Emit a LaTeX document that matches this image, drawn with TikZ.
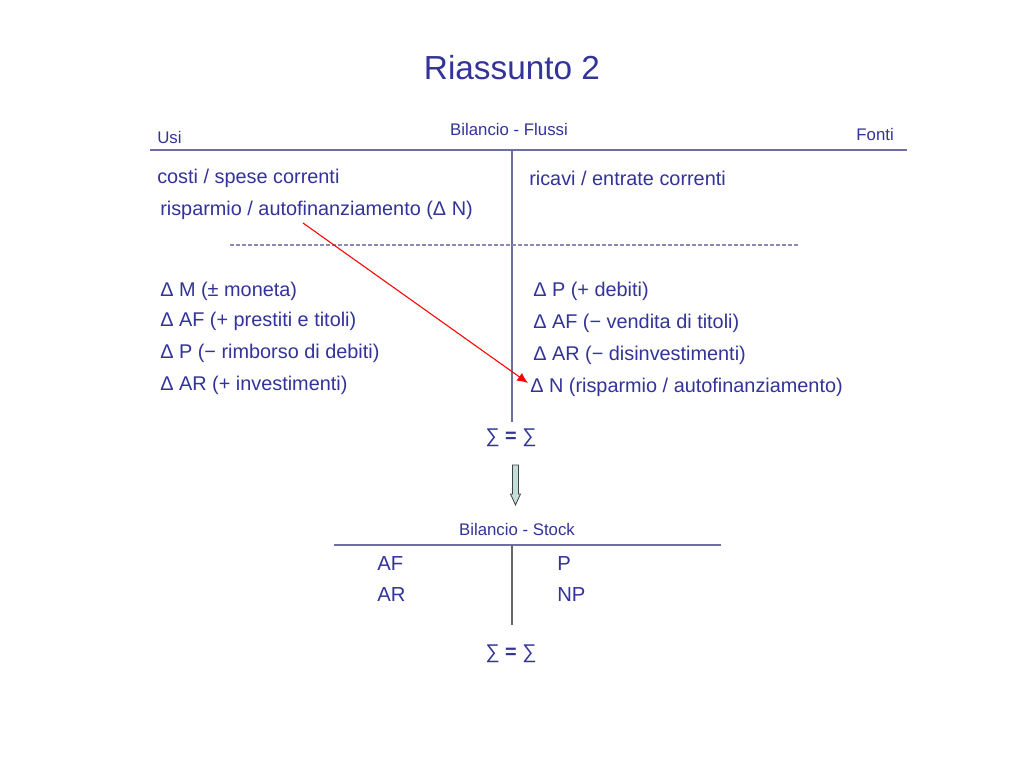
\documentclass[tikz,border=0pt]{standalone}
\usepackage{fontspec}
\setmainfont{Liberation Sans}
\usetikzlibrary{arrows.meta}
\definecolor{txt}{HTML}{333399}
\definecolor{ln}{HTML}{6E6EA0}
\definecolor{gln}{HTML}{666666}
\definecolor{arrfill}{HTML}{C3DED9}
\tikzset{
  every node/.style={inner sep=0pt, text=txt},
  body/.style={anchor=west, font=\fontsize{14.9}{16}\selectfont},
  big/.style={anchor=west, font=\fontsize{15.2}{17}\selectfont},
  small/.style={font=\fontsize{12.6}{14}\selectfont},
  title/.style={font=\fontsize{25}{30}\selectfont},
  sumeq/.style={font=\fontsize{14.9}{16}\selectfont},
  rule/.style={draw=ln, line width=1.1pt},
  grule/.style={draw=gln, line width=1.3pt},
  dashrule/.style={draw=ln!80, line width=0.8pt, dash pattern=on 3pt off 1.5pt},
  redarrow/.style={draw=red, line width=0.8pt, -{Latex[length=8pt,width=7pt]}},
  blockarrow/.style={draw=black!75, fill=arrfill, line width=0.6pt}
}
\begin{document}
\begin{tikzpicture}[x=0.75pt,y=-0.75pt]
\useasboundingbox (0,0) rectangle (1024,768);
\fill[white] (0,0) rectangle (1024,768);
% title
\node[title] (ttl) at (512,68) {Riassunto 2};
% top T-account
\node[small] (bf) at (509,129) {Bilancio - Flussi};
\node[small, anchor=west] (usi) at (157,137) {Usi};
\node[small, anchor=east] (fonti) at (894,134) {Fonti};
\coordinate (hl1) at (150,150);
\coordinate (hr1) at (907,150);
\coordinate (vt1) at (512,150);
\coordinate (vb1) at (512,422);
\path[rule] (hl1) -- (hr1);
\path[rule] (vt1) -- (vb1);
\node[body] (costi) at (157,178) {costi / spese correnti};
\node[body] (risp) at (160,210) {risparmio / autofinanziamento (Δ N)};
\node[body] (ricavi) at (529,178) {ricavi / entrate correnti};
\coordinate (dl) at (230,245);
\coordinate (dr) at (800,245);
\path[dashrule] (dl) -- (dr);
\node[body] (l1) at (160,291) {Δ M (± moneta)};
\node[body] (l2) at (160,321) {Δ AF (+ prestiti e titoli)};
\node[body] (l3) at (160,353) {Δ P (− rimborso di debiti)};
\node[body] (l4) at (160,385) {Δ AR (+ investimenti)};
\node[body] (r1) at (533,291) {Δ P (+ debiti)};
\node[body] (r2) at (533,323) {Δ AF (− vendita di titoli)};
\node[body] (r3) at (533,355) {Δ AR (− disinvestimenti)};
\node[body] (dn) at (530,387) {Δ N (risparmio / autofinanziamento)};
\coordinate (rs) at (303,223);
\path[redarrow] (rs) -- ([xshift=-1.5pt,yshift=3pt]dn.west);
\node[sumeq] (s1) at (511,438) {∑ \textbf{=} ∑};
% block arrow
\path[blockarrow] (512.5,465) -- (518.5,465) -- (518.5,494) -- (520.5,494)
  -- (515.5,505) -- (510.5,494) -- (512.5,494) -- cycle;
% bottom T-account
\node[small] (bs) at (517,529) {Bilancio - Stock};
\coordinate (hl2) at (334,545);
\coordinate (hr2) at (721,545);
\coordinate (vt2) at (512,545);
\coordinate (vb2) at (512,625);
\path[rule] (hl2) -- (hr2);
\path[grule] (vt2) -- (vb2);
\node[big] (af) at (377,564) {AF};
\node[big] (ar) at (377,595) {AR};
\node[big] (p) at (557,564) {P};
\node[big] (np) at (557,595) {NP};
\node[sumeq] (s2) at (511,654) {∑ \textbf{=} ∑};
\end{tikzpicture}
\end{document}
